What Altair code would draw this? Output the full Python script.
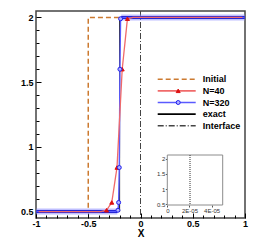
import altair as alt
import pandas as pd

FONT = "Liberation Sans"

# ---------------- data ----------------
SERIES = ["Initial", "N=40", "N=320", "exact", "Interface"]
COLORS = ["#cc7a30", "#f06a6a", "#5a5aff", "#000000", "#444444"]
DASHES = [[5, 3], [1, 0], [1, 0], [1, 0], [6, 2, 1, 2]]
# marker keys (own domain so that the marker legend stays separate)
MARKERS = ["mk Initial", "mk N=40", "mk N=320", "mk exact", "mk Interface"]
SHAPES = ["circle", "triangle-up", "circle", "circle", "circle"]
MK_FILL = ["transparent", "#dd1010", "#b0b0ff", "transparent", "transparent"]
MK_STROKE = ["transparent", "#dd1010", "#2020ee", "transparent", "transparent"]

init_x = [-1, -0.5, -0.5, 1]
init_y = [0.5, 0.5, 2, 2]
exact_x = [-1, -0.2, -0.2, 1]
exact_y = [0.5, 0.5, 2, 2]
interface_x = [0]

n40_x = [-0.975, -0.375, -0.325, -0.275, -0.225, -0.175, -0.125, -0.075, 0.975]
n40_y = [0.5, 0.5, 0.51, 0.57, 0.84, 1.6, 1.99, 2.0, 2.0]

n320_x = [-0.996875, -0.221875, -0.215625, -0.209375, -0.203125,
          -0.196875, -0.190625, -0.184375, 0.996875]
n320_y = [0.5, 0.5, 0.51, 0.57, 0.84, 1.6, 1.99, 2.0, 2.0]

x_major = [-1, -0.5, 0, 0.5, 1]
x_minor = [-0.9, -0.8, -0.7, -0.6, -0.4, -0.3, -0.2, -0.1,
           0.1, 0.2, 0.3, 0.4, 0.6, 0.7, 0.8, 0.9]
y_major = [0.5, 1, 1.5, 2]
y_minor = [0.6, 0.7, 0.8, 0.9, 1.1, 1.2, 1.3, 1.4, 1.6, 1.7, 1.8, 1.9]

X_DOMAIN = [-1, 1]
Y_DOMAIN = [0.45, 2.05]

# inset
inset_x_domain = [0, 5e-5]
inset_y_domain = [0.467, 2.133]
inset_x_ticks = [0, 2e-5, 4e-5]
inset_y_ticks = [0.5, 1, 1.5, 2]
inset_line_x = [2.05e-5]

W, H = 209, 207
INSET_L, INSET_R, INSET_T, INSET_B = 131.3, 186.7, 144.0, 194.0

# ---------------- frames ----------------
df_init = pd.DataFrame({"x": init_x, "y": init_y, "series": "Initial"})
df_exact = pd.DataFrame({"x": exact_x, "y": exact_y, "series": "exact"})
df_iface = pd.DataFrame({"x": interface_x, "series": "Interface"})
df_n40 = pd.DataFrame({"x": n40_x, "y": n40_y, "series": "N=40"})
df_n320 = pd.DataFrame({"x": n320_x, "y": n320_y, "series": "N=320"})
df_pts = pd.concat([
    pd.DataFrame({"x": n40_x, "y": n40_y, "mk": "mk N=40"}),
    pd.DataFrame({"x": n320_x, "y": n320_y, "mk": "mk N=320"}),
])
df_inset_box = pd.DataFrame({"x": [inset_x_domain[0]], "x2": [inset_x_domain[1]],
                             "y": [inset_y_domain[0]], "y2": [inset_y_domain[1]]})
df_inset_line = pd.DataFrame({"x": inset_line_x})


def xs():
    return alt.Scale(domain=X_DOMAIN, nice=False, zero=False)


def ys():
    return alt.Scale(domain=Y_DOMAIN, nice=False, zero=False)


LEG_X, LEG_Y = 120.7, 63.7

legA = alt.Legend(title=None, orient="none", legendX=LEG_X, legendY=LEG_Y,
                  symbolType="stroke", symbolSize=1444, symbolStrokeWidth=1.6,
                  clipHeight=9, rowPadding=1.65, labelFontSize=9, labelFont=FONT,
                  labelFontWeight="bold", labelOffset=6, labelColor="black",
                  padding=0, direction="vertical")
legB = alt.Legend(title=None, orient="none", legendX=LEG_X, legendY=LEG_Y,
                  clipHeight=9, rowPadding=1.65, labelFontSize=9, labelFont=FONT,
                  labelExpr="''", symbolSize=16,
                  symbolOffset=17, symbolStrokeWidth=1, padding=0,
                  direction="vertical")

color_enc = alt.Color("series:N", scale=alt.Scale(domain=SERIES, range=COLORS), legend=legA)
dash_enc = alt.StrokeDash("series:N", scale=alt.Scale(domain=SERIES, range=DASHES), legend=legA)

axis_x_major = alt.Axis(orient="bottom", offset=-5, values=x_major, tickSize=5,
                        tickColor="black", tickWidth=1, domain=False, grid=False,
                        labelExpr="toString(datum.value)", labelFont=FONT,
                        labelFontSize=9, labelFontWeight="bold", labelColor="black",
                        labelPadding=1, labelFlush=False, labelOverlap=False,
                        title="X", titleFont=FONT, titleFontSize=10,
                        titleFontWeight="bold", titleColor="black", titlePadding=0.5)
axis_y_major = alt.Axis(orient="left", offset=-5, values=y_major, tickSize=5,
                        tickColor="black", tickWidth=1, domain=False, grid=False,
                        labelExpr="toString(datum.value)", labelFont=FONT,
                        labelFontSize=9, labelFontWeight="bold", labelColor="black",
                        labelPadding=3, labelOverlap=False, title=None)
axis_x_minor = alt.Axis(orient="bottom", offset=-3, values=x_minor, tickSize=3,
                        tickColor="black", tickWidth=1, domain=False, grid=False,
                        labels=False, title=None)
axis_y_minor = alt.Axis(orient="left", offset=-3, values=y_minor, tickSize=3,
                        tickColor="black", tickWidth=1, domain=False, grid=False,
                        labels=False, title=None)

# ---------------- layers ----------------
initial = alt.Chart(df_init).mark_line(strokeWidth=1.5).encode(
    x=alt.X("x:Q", scale=xs(), axis=axis_x_minor),
    y=alt.Y("y:Q", scale=ys(), axis=axis_y_minor),
    color=color_enc, strokeDash=dash_enc,
)

iface = alt.Chart(df_iface).mark_rule(strokeWidth=1).encode(
    x=alt.X("x:Q", scale=xs(), axis=None),
    color=color_enc, strokeDash=dash_enc,
)

exact = alt.Chart(df_exact).mark_line(strokeWidth=1).encode(
    x=alt.X("x:Q", scale=xs(), axis=axis_x_major),
    y=alt.Y("y:Q", scale=ys(), axis=axis_y_major),
    color=color_enc, strokeDash=dash_enc,
)

band_base = alt.Chart(df_n320).transform_filter(
    "datum.y <= 0.5 || datum.y >= 2"
).transform_calculate(lvl="datum.y >= 2 ? 'hi' : 'lo'")
band_halo = band_base.mark_line(strokeWidth=6, opacity=0.55).encode(
    x=alt.X("x:Q", scale=xs(), axis=None),
    y=alt.Y("y:Q", scale=ys(), axis=None),
    detail="lvl:N", color=alt.value("#8a8aff"),
)
band_core = band_base.mark_line(strokeWidth=3).encode(
    x=alt.X("x:Q", scale=xs(), axis=None),
    y=alt.Y("y:Q", scale=ys(), axis=None),
    detail="lvl:N", color=alt.value("#1515c8"),
)

n320 = alt.Chart(df_n320).mark_line(strokeWidth=1.4).encode(
    x=alt.X("x:Q", scale=xs(), axis=None),
    y=alt.Y("y:Q", scale=ys(), axis=None),
    color=color_enc, strokeDash=dash_enc,
)

n40 = alt.Chart(df_n40).mark_line(strokeWidth=1.3).encode(
    x=alt.X("x:Q", scale=xs(), axis=None),
    y=alt.Y("y:Q", scale=ys(), axis=None),
    color=color_enc, strokeDash=dash_enc,
)

# markers on the flat parts are hidden under the thick N=320 band in the reference
pts = alt.Chart(df_pts).transform_filter(
    "datum.y > 0.5 && datum.y < 2"
).mark_point(size=16, strokeWidth=1, opacity=1).encode(
    x=alt.X("x:Q", scale=xs(), axis=None),
    y=alt.Y("y:Q", scale=ys(), axis=None),
    shape=alt.Shape("mk:N", scale=alt.Scale(domain=MARKERS, range=SHAPES), legend=legB),
    fill=alt.Fill("mk:N", scale=alt.Scale(domain=MARKERS, range=MK_FILL), legend=legB),
    stroke=alt.Stroke("mk:N", scale=alt.Scale(domain=MARKERS, range=MK_STROKE), legend=legB),
)


def ixs():
    return alt.Scale(domain=inset_x_domain, range=[INSET_L, INSET_R], nice=False, zero=False)


def iys():
    return alt.Scale(domain=inset_y_domain, range=[INSET_B, INSET_T], nice=False, zero=False)


inset_box = alt.Chart(df_inset_box).mark_rect(fill="white", stroke="#8c8c8c", strokeWidth=1).encode(
    x=alt.X("x:Q", scale=ixs(),
            axis=alt.Axis(orient="bottom", offset=-(H - INSET_B), values=inset_x_ticks,
                          tickSize=2, tickColor="#555", domain=False, grid=False,
                          labelExpr="datum.value == 0 ? '0' : (datum.value < 3e-5 ? '2E-05' : '4E-05')",
                          labelFont=FONT, labelFontSize=6, labelColor="#333",
                          labelPadding=0.5, labelFlush=False, labelOverlap=False, title=None)),
    x2="x2:Q",
    y=alt.Y("y:Q", scale=iys(),
            axis=alt.Axis(orient="left", offset=-INSET_L, values=inset_y_ticks,
                          tickSize=2, tickColor="#555", domain=False, grid=False,
                          labelExpr="toString(datum.value)",
                          labelFont=FONT, labelFontSize=6, labelColor="#333",
                          labelPadding=0.5, labelOverlap=False, title=None)),
    y2="y2:Q",
)

inset_line = alt.Chart(df_inset_line).mark_rule(strokeWidth=1, strokeDash=[1, 1], color="#333").encode(
    x=alt.X("x:Q", scale=ixs(), axis=None),
    y=alt.value(INSET_T), y2=alt.value(INSET_B),
)

chart = alt.layer(
    initial, iface, exact, band_halo, band_core, n320, n40, pts, inset_box, inset_line
).resolve_scale(
    x="independent", y="independent"
).properties(
    width=W, height=H,
    autosize=alt.AutoSizeParams(type="none"),
    padding={"left": 28, "top": 3, "right": 16, "bottom": 20},
).configure_view(stroke="#444444", strokeWidth=1.5)

chart.save("out.html", embed_options={"renderer": "svg", "actions": False})
